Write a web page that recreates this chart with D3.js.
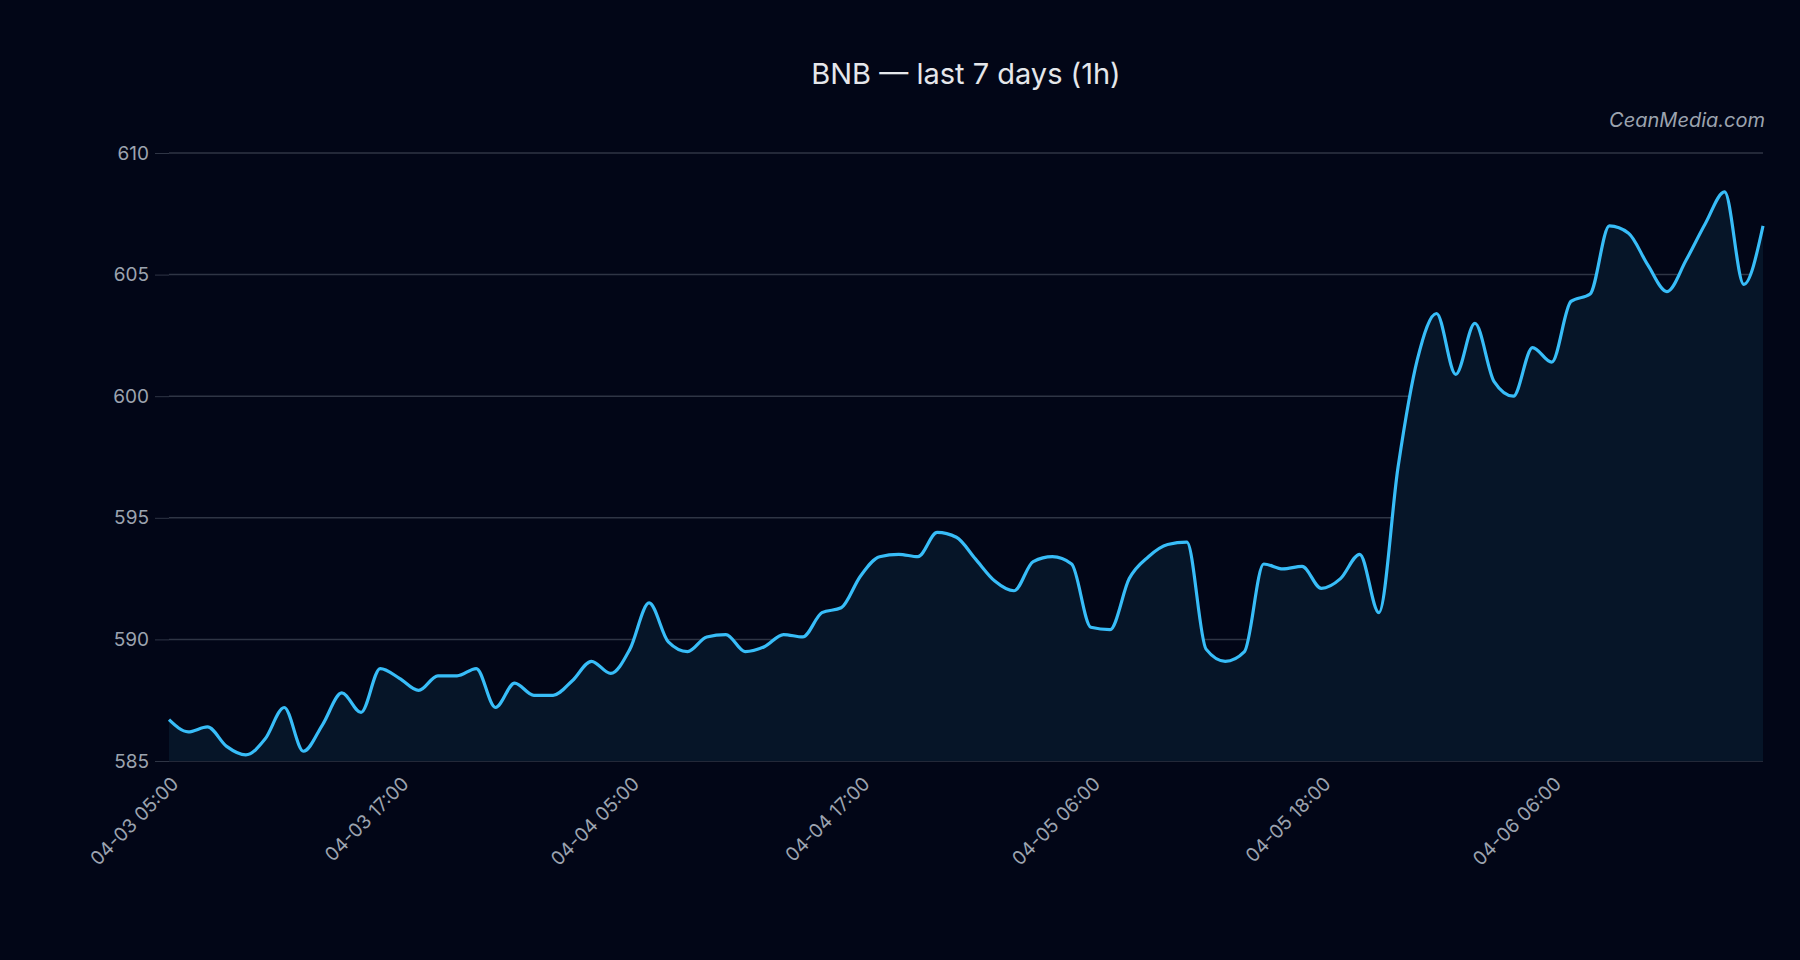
<!DOCTYPE html>
<html><head><meta charset="utf-8">
<script src="https://cdn.jsdelivr.net/npm/d3@7"></script>
<style>html,body{margin:0;background:#020617;}svg{display:block;font-family:Inter,"Noto Sans",sans-serif;}</style>
</head><body><svg id="c" width="1800" height="960"></svg>
<script>
const prices = [586.7,586.2,586.4,585.6,585.25,585.9,587.2,585.4,586.5,587.8,587.0,588.8,588.4,587.9,588.5,588.5,588.8,587.2,588.2,587.7,587.7,588.3,589.1,588.6,589.6,591.5,589.9,589.5,590.1,590.2,589.5,589.7,590.2,590.1,591.1,591.3,592.6,593.4,593.5,593.4,594.4,594.2,593.3,592.4,592.0,593.2,593.4,593.1,590.5,590.4,592.5,593.4,593.9,594.0,589.6,589.1,589.5,593.1,592.9,593.0,592.1,592.5,593.5,591.1,597.1,601.5,603.4,600.9,603.0,600.6,600.0,602.0,601.4,603.9,604.2,607.0,606.7,605.4,604.3,605.6,607.1,608.4,604.6,607.0];
const tickIndex = [0,12,24,36,48,60,72];
const tickLabels = ["04-03 05:00","04-03 17:00","04-04 05:00","04-04 17:00","04-05 06:00","04-05 18:00","04-06 06:00"];
const yTicks = [585,590,595,600,605,610];
const title = "BNB — last 7 days (1h)";
const watermark = "CeanMedia.com";

const svg = d3.select("#c");
const L=169,R=1763,T=153,B=761;
const x = d3.scaleLinear().domain([0,prices.length-1]).range([L,R]);
const y = d3.scaleLinear().domain([585,610]).range([B,T]);

svg.append("text").attr("x",(L+R)/2).attr("y",84).attr("text-anchor","middle")
  .attr("fill","#e5e7eb").attr("font-size",29).text(title);
svg.append("text").attr("x",R+2).attr("y",127).attr("text-anchor","end")
  .attr("fill","#9ca3af").attr("font-size",20).attr("font-style","italic").text(watermark);

const ya = svg.append("g").attr("transform",`translate(${L},0)`)
  .call(d3.axisLeft(y).tickValues(yTicks).tickSize(14).tickPadding(6).tickFormat(d3.format("d")));
ya.select(".domain").remove();
ya.selectAll("line").attr("stroke","#2f3545");
ya.selectAll("text").attr("fill","#9ca3af").attr("font-size",19).attr("font-family","Inter,'Noto Sans',sans-serif");

svg.append("g").selectAll("line").data(yTicks).join("line")
  .attr("x1",L).attr("x2",R).attr("y1",d=>y(d)).attr("y2",d=>y(d))
  .attr("stroke","#2f3545").attr("stroke-width",1.5);

const area = d3.area().x((d,i)=>x(i)).y0(B).y1(d=>y(d)).curve(d3.curveMonotoneX);
const line = d3.line().x((d,i)=>x(i)).y(d=>y(d)).curve(d3.curveMonotoneX);
svg.append("path").datum(prices).attr("d",area).attr("fill","#061528");
svg.append("path").datum(prices).attr("d",line).attr("fill","none").attr("stroke","#38bdf8").attr("stroke-width",3.2);

const xa = svg.append("g").attr("transform",`translate(0,${B})`)
  .call(d3.axisBottom(x).tickValues(tickIndex).tickSize(0).tickFormat((d,i)=>tickLabels[i]));
xa.select(".domain").remove();
xa.selectAll("text").attr("fill","#9ca3af").attr("font-size",19).attr("font-family","Inter,'Noto Sans',sans-serif")
  .attr("text-anchor","end").attr("dy",0).attr("transform","translate(8,22) rotate(-45)");
</script></body></html>
